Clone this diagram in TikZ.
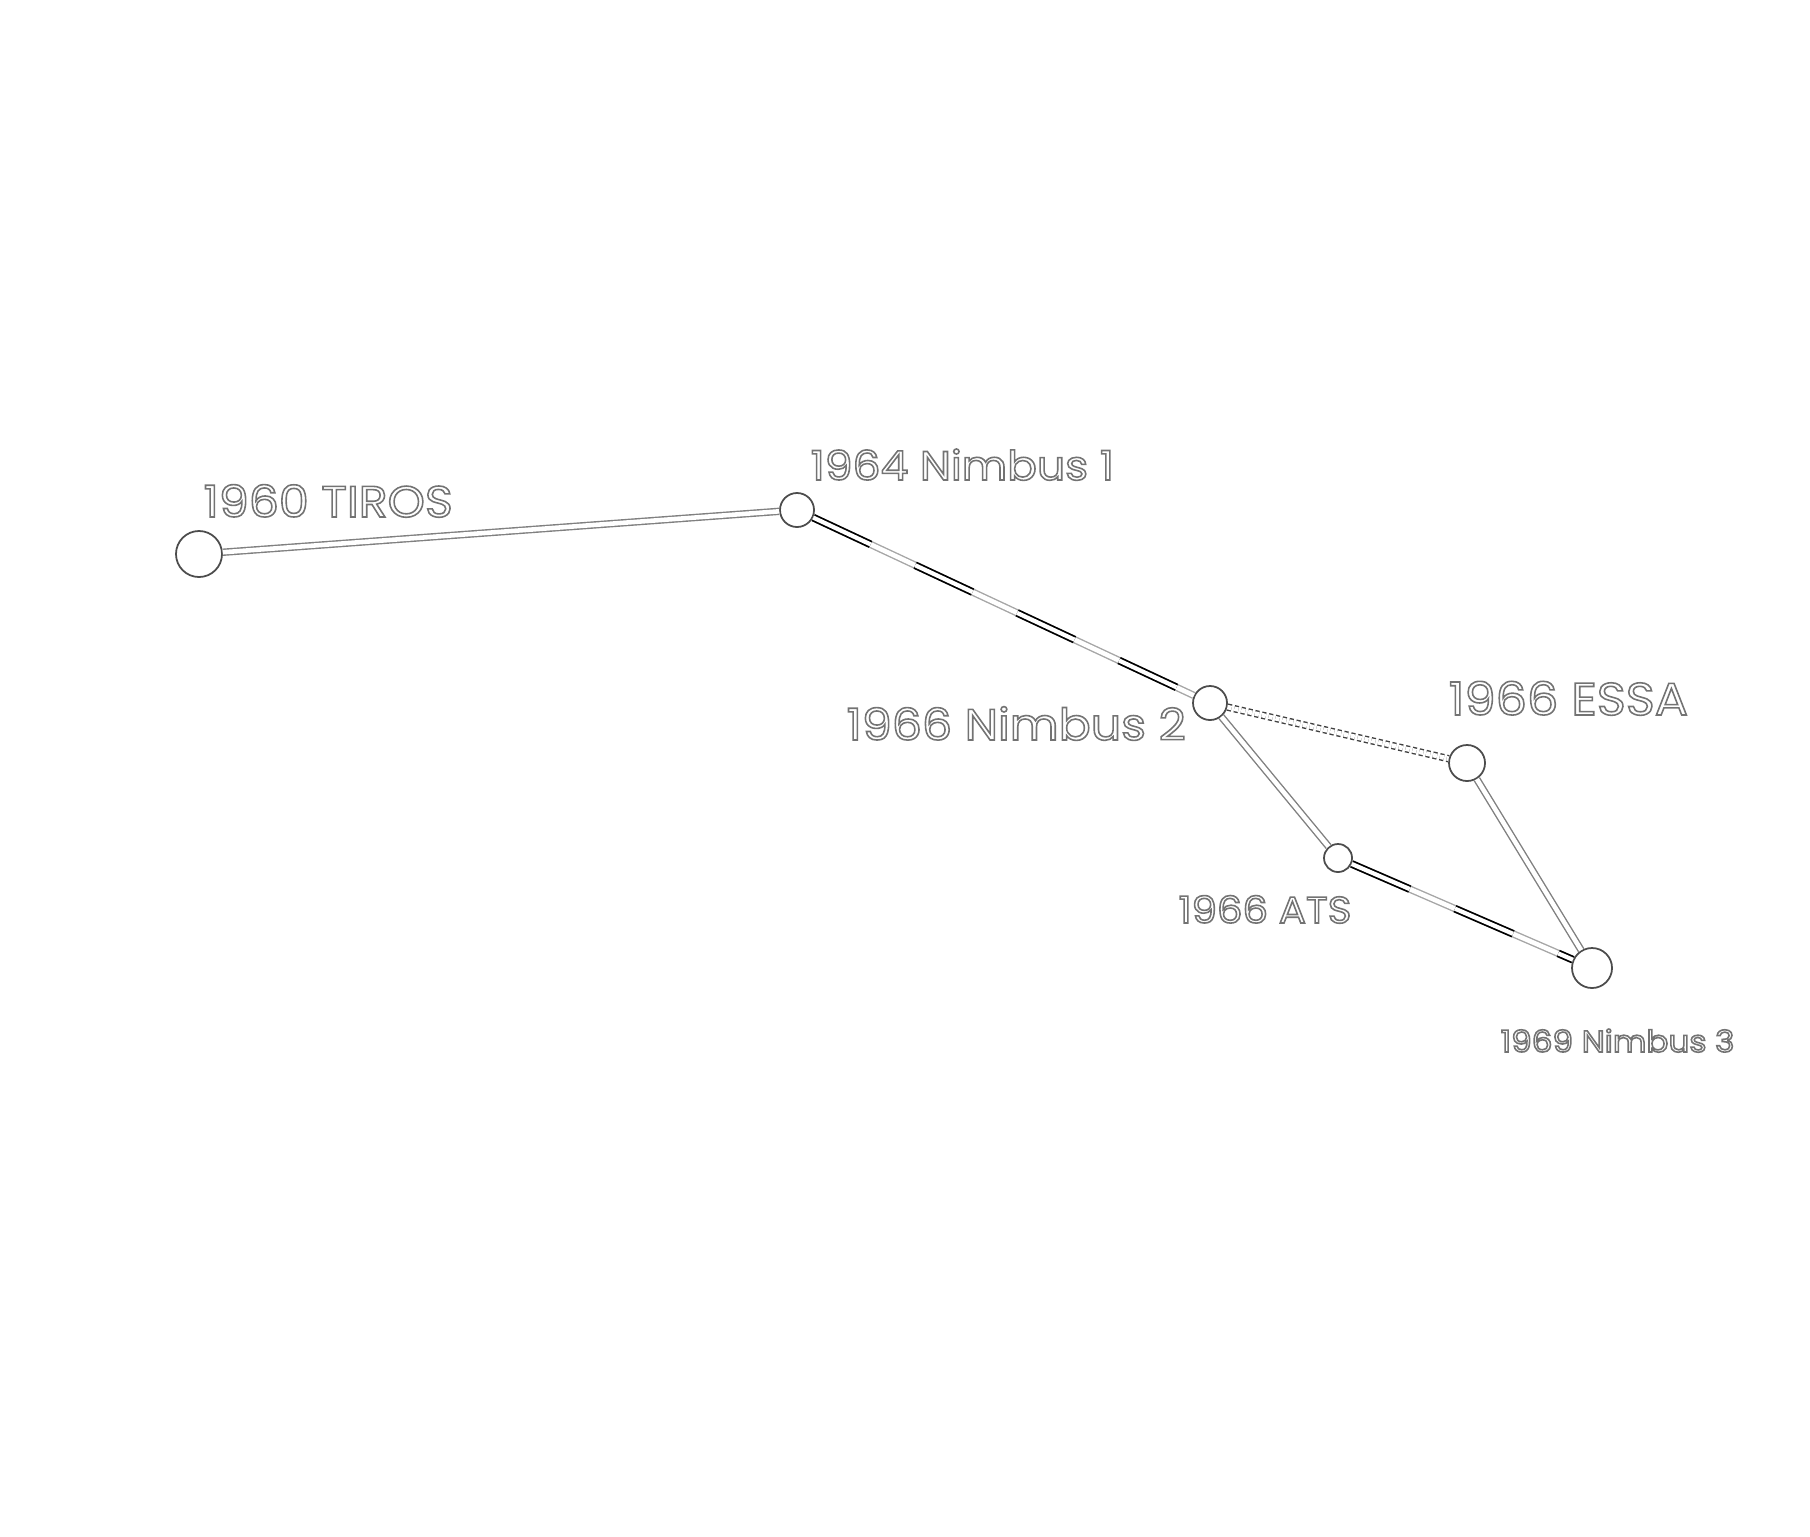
\documentclass[tikz,border=0pt]{standalone}
\usepackage{fontspec}
\setmainfont{Poppins}[FakeStretch=1.08]
\usetikzlibrary{positioning}
% white letters with a grey rim
\newcommand\rimtext[1]{\special{pdf:literal direct 2 Tr 0.45 w 0.45 G 1 g}#1\special{pdf:literal direct 0 Tr}}

\begin{document}
\begin{tikzpicture}[
        x=0.01cm, y=-0.01cm,
        sat/.style={circle, draw=black!70, fill=white, line width=0.5pt, inner sep=0pt},
        satname/.style={anchor=base west, inner sep=0pt, text=black!40},
        link/.style={draw=black!50, line width=0.4pt, double=white, double distance=1.3pt},
        dashlink/.style={link, draw=black!35, postaction={draw=black, line width=0.5pt, double=white, double distance=1.2pt, dash pattern=on 18pt off 14pt}},
        dotlink/.style={link, draw=black!75, dash pattern=on 1.2pt off 0.8pt},
    ]
        \useasboundingbox (0,0) rectangle (1810,1536);
        % satellites
        \node[sat, minimum size=0.46cm] (tiros) at (199,554) {};
        \node[sat, minimum size=0.34cm] (nimbusa) at (797,510) {};
        \node[sat, minimum size=0.34cm] (nimbusb) at (1210,703) {};
        \node[sat, minimum size=0.36cm] (essa) at (1467,763) {};
        \node[sat, minimum size=0.28cm] (ats) at (1338,858) {};
        \node[sat, minimum size=0.40cm] (nimbusc) at (1592,968) {};
        % names
        \node[satname, font=\fontsize{12.5}{14}\selectfont] (tirosname) at (203,517) {\rimtext{1960 TIROS}};
        \node[satname, font=\fontsize{11.6}{14}\selectfont] (nimbusaname) at (810,480) {\rimtext{1964 Nimbus 1}};
        \node[satname, font=\fontsize{12.5}{15}\selectfont] (nimbusbname) at (846,740) {\rimtext{1966 Nimbus 2}};
        \node[satname, font=\fontsize{13}{15}\selectfont] (essaname) at (1448,715) {\rimtext{1966 ESSA}};
        \node[satname, font=\fontsize{10.6}{13}\selectfont] (atsname) at (1178,923) {\rimtext{1966 ATS}};
        \node[satname, font=\fontsize{8.6}{11}\selectfont] (nimbuscname) at (1500,1052) {\rimtext{1969 Nimbus 3}};
        % links
        \draw[link] (tiros) -- (nimbusa);
        \draw[dashlink] (nimbusa) -- (nimbusb);
        \draw[dotlink] (nimbusb) -- (essa);
        \draw[link] (nimbusb) -- (ats);
        \draw[link] (essa) -- (nimbusc);
        \draw[dashlink] (ats) -- (nimbusc);
    \end{tikzpicture}
\end{document}
